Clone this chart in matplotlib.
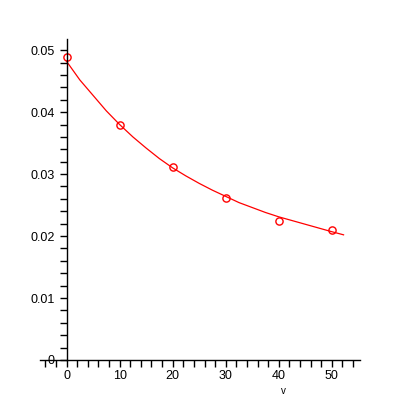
import matplotlib
matplotlib.use("Agg")
import matplotlib.pyplot as plt
from matplotlib.ticker import MultipleLocator

plt.rcParams['font.family'] = ['Liberation Sans', 'DejaVu Sans']

# measured points
v_data = [0, 10, 20, 30, 40, 50]
y_data = [0.0489, 0.0379, 0.0311, 0.0261, 0.0225, 0.0210]

# fitted curve
v_fit = [0, 2.5, 5, 7.5, 10, 12.5, 15, 17.5, 20, 22.5, 25, 27.5, 30,
         32.5, 35, 37.5, 40, 42.5, 45, 47.5, 50, 52.2]
y_fit = [0.0482, 0.0452, 0.0427, 0.0402, 0.0380, 0.0360, 0.0342, 0.0325,
         0.0310, 0.0297, 0.0285, 0.0274, 0.0264, 0.0254, 0.0246, 0.0238,
         0.0231, 0.0225, 0.0219, 0.0213, 0.0207, 0.0202]

fig = plt.figure(figsize=(4, 4), dpi=100)
ax = fig.add_axes([0.1, 0.1, 0.8, 0.8025])

ax.plot(v_fit, y_fit, color='red', lw=0.9)
ax.plot(v_data, y_data, 'o', mfc='none', mec='red', ms=5.2, mew=1.0)

ax.set_xlim(-5, 55.3)
ax.set_ylim(0, 0.0518)

# axes crossing at the origin, Maple style
for s in ['top', 'right']:
    ax.spines[s].set_visible(False)
ax.spines['left'].set_position(('data', 0))
ax.spines['bottom'].set_position(('data', 0))
ax.spines['left'].set_linewidth(1)
ax.spines['bottom'].set_linewidth(1)

ax.xaxis.set_major_locator(MultipleLocator(10))
ax.xaxis.set_minor_locator(MultipleLocator(2))
ax.yaxis.set_minor_locator(MultipleLocator(0.002))
ax.set_yticks([0, 0.01, 0.02, 0.03, 0.04, 0.05])
ax.set_yticklabels(['0', '0.01', '0.02', '0.03', '0.04', '0.05'])

ax.tick_params(which='both', direction='out', length=5, width=1, labelsize=9)
ax.tick_params(axis='x', pad=2)

fig.text(0.7075, 0.01, 'v', fontsize=7, ha='center', va='bottom')

fig.savefig('out.png', dpi=100)
